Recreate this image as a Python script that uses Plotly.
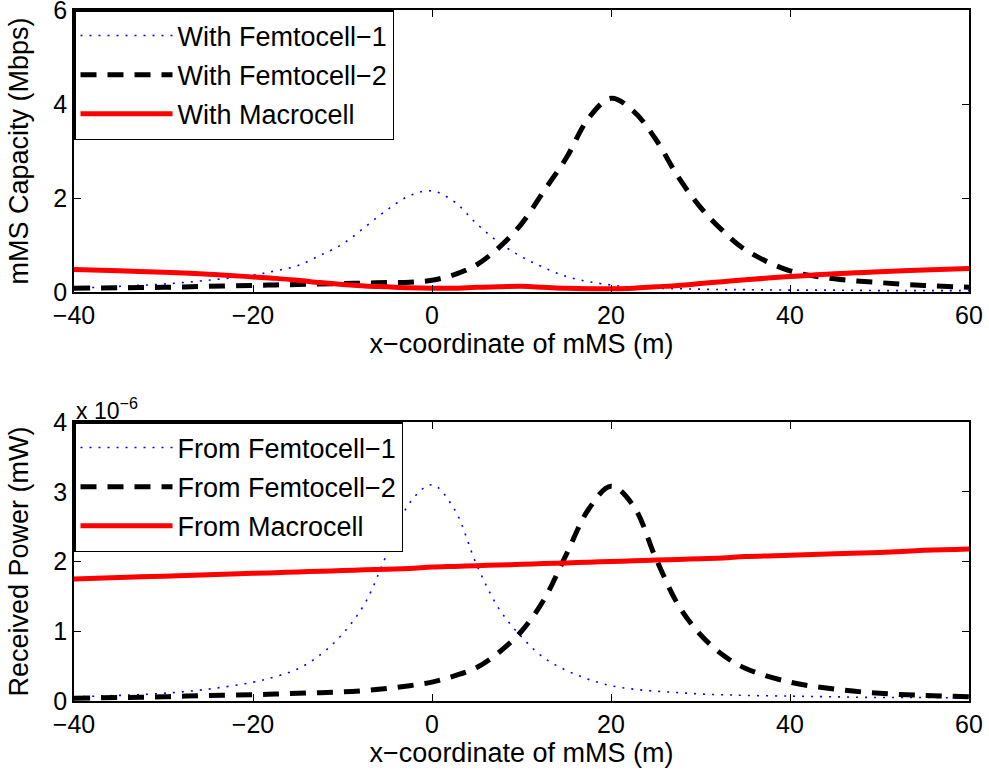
import plotly.graph_objects as go

# ---- data ----
x_m = [-40, -35, -30, -25, -20, -17.5, -15, -12.5, -10, -7.5, -5, -2.5, 0, 2.5, 5, 7.5,
       10, 12.5, 15, 17.5, 20, 22.5, 25, 27.5, 30, 32.5, 35, 40, 45, 50, 55, 60]

cap_femto1 = [0.08, 0.12, 0.17, 0.25, 0.36, 0.45, 0.56, 0.78, 1.02, 1.38, 1.75, 2.05, 2.15, 1.92, 1.45, 1.05,
              0.75, 0.52, 0.33, 0.22, 0.15, 0.10, 0.08, 0.07, 0.06, 0.05, 0.05, 0.04, 0.04, 0.03, 0.03, 0.03]
cap_femto2 = [0.08, 0.09, 0.10, 0.12, 0.14, 0.15, 0.16, 0.17, 0.18, 0.19, 0.20, 0.21, 0.25, 0.37, 0.58, 0.95,
              1.45, 2.15, 2.85, 3.70, 4.12, 3.85, 3.25, 2.45, 1.80, 1.30, 0.90, 0.45, 0.28, 0.20, 0.14, 0.10]
cap_macro = [0.48, 0.45, 0.42, 0.38, 0.32, 0.29, 0.25, 0.20, 0.16, 0.13, 0.11, 0.09, 0.08, 0.08, 0.10, 0.11,
             0.12, 0.10, 0.08, 0.07, 0.07, 0.08, 0.11, 0.14, 0.18, 0.22, 0.26, 0.33, 0.39, 0.43, 0.47, 0.50]

# received power in units of 1e-6 mW
pw_femto1 = [0.06, 0.08, 0.11, 0.17, 0.27, 0.35, 0.46, 0.66, 0.96, 1.40, 2.12, 2.84, 3.10, 2.75, 1.95, 1.32,
             0.92, 0.62, 0.44, 0.31, 0.22, 0.17, 0.14, 0.12, 0.10, 0.09, 0.08, 0.07, 0.06, 0.05, 0.05, 0.04]
pw_femto2 = [0.04, 0.05, 0.06, 0.08, 0.09, 0.10, 0.11, 0.12, 0.13, 0.15, 0.18, 0.22, 0.27, 0.36, 0.48, 0.70,
             1.00, 1.45, 2.10, 2.75, 3.08, 2.80, 2.05, 1.38, 0.95, 0.66, 0.47, 0.27, 0.17, 0.11, 0.08, 0.06]
pw_macro = [1.75, 1.77, 1.79, 1.81, 1.83, 1.84, 1.85, 1.86, 1.87, 1.88, 1.89, 1.90, 1.92, 1.93, 1.94, 1.95,
            1.96, 1.97, 1.98, 1.99, 2.00, 2.01, 2.02, 2.03, 2.04, 2.05, 2.07, 2.09, 2.11, 2.13, 2.16, 2.18]

x_ticks = [-40, -20, 0, 20, 40, 60]
top_yticks = [0, 2, 4, 6]
bot_yticks = [0, 1, 2, 3, 4]

top_names = ["With Femtocell\u22121", "With Femtocell\u22122", "With Macrocell"]
bot_names = ["From Femtocell\u22121", "From Femtocell\u22122", "From Macrocell"]

FONT = "Liberation Sans, Arial, Helvetica, sans-serif"
W, H = 989, 775

styles = [
    dict(color="rgb(0,0,255)", width=1.6, dash="2px,7px"),
    dict(color="black", width=5, dash="16px,11px"),
    dict(color="rgb(255,0,0)", width=5, dash="solid"),
]

fig = go.Figure()
for i, (name, ys, st) in enumerate(zip(top_names, [cap_femto1, cap_femto2, cap_macro], styles)):
    fig.add_trace(go.Scatter(x=x_m, y=ys, name=name, mode="lines", line=dict(shape="spline", **st),
                             xaxis="x", yaxis="y", legend="legend", legendgroup="t%d" % i))
for i, (name, ys, st) in enumerate(zip(bot_names, [pw_femto1, pw_femto2, pw_macro], styles)):
    fig.add_trace(go.Scatter(x=x_m, y=ys, name=name, mode="lines", line=dict(shape="spline", **st),
                             xaxis="x2", yaxis="y2", legend="legend2", legendgroup="b%d" % i))

x0, x1 = 74 / W, 969 / W
top_dom = [1 - 292 / H, 1 - 10 / H]
bot_dom = [1 - 701 / H, 1 - 422 / H]

axis_common = dict(showline=True, linecolor="black", linewidth=1.5, mirror="ticks", ticks="inside",
                   ticklen=7, tickwidth=1, tickcolor="black", showgrid=False, zeroline=False,
                   automargin=False, ticklabeloverflow="allow",
                   tickfont=dict(family=FONT, size=25, color="black"))

TF = dict(family=FONT, size=27, color="black")
xtitle = dict(text="x\u2212coordinate of mMS (m)", font=TF, standoff=4)

legend_common = dict(x=x0, xanchor="left", yanchor="top", bgcolor="white", bordercolor="black",
                     borderwidth=1.5, font=dict(family=FONT, size=27, color="black"), itemwidth=92,
                     tracegroupgap=1)

fig.update_layout(
    width=W, height=H, margin=dict(l=0, r=0, t=0, b=0),
    paper_bgcolor="white", plot_bgcolor="white",
    font=dict(family=FONT, color="black"),
    xaxis=dict(domain=[x0, x1], range=[-40, 60], tickvals=x_ticks, anchor="y", title=xtitle, **axis_common),
    yaxis=dict(domain=top_dom, range=[0, 6], tickvals=top_yticks, anchor="x",
               title=dict(text="mMS Capacity (Mbps)", font=TF, standoff=17), **axis_common),
    xaxis2=dict(domain=[x0, x1], range=[-40, 60], tickvals=x_ticks, anchor="y2", title=xtitle, **axis_common),
    yaxis2=dict(domain=bot_dom, range=[0, 4], tickvals=bot_yticks, anchor="x2",
                title=dict(text="Received Power (mW)", font=TF, standoff=17), **axis_common),
    legend=dict(y=top_dom[1], **legend_common),
    legend2=dict(y=bot_dom[1], **legend_common),
    showlegend=True,
    annotations=[dict(text="x 10<sup>\u22126</sup>", x=x0, y=bot_dom[1], xref="paper", yref="paper",
                      xanchor="left", yanchor="bottom", showarrow=False, yshift=-4,
                      font=dict(family=FONT, size=23, color="black"))],
)

fig.write_html("out.html", config={"displayModeBar": False},
               post_script="document.body.style.margin='0px';")
